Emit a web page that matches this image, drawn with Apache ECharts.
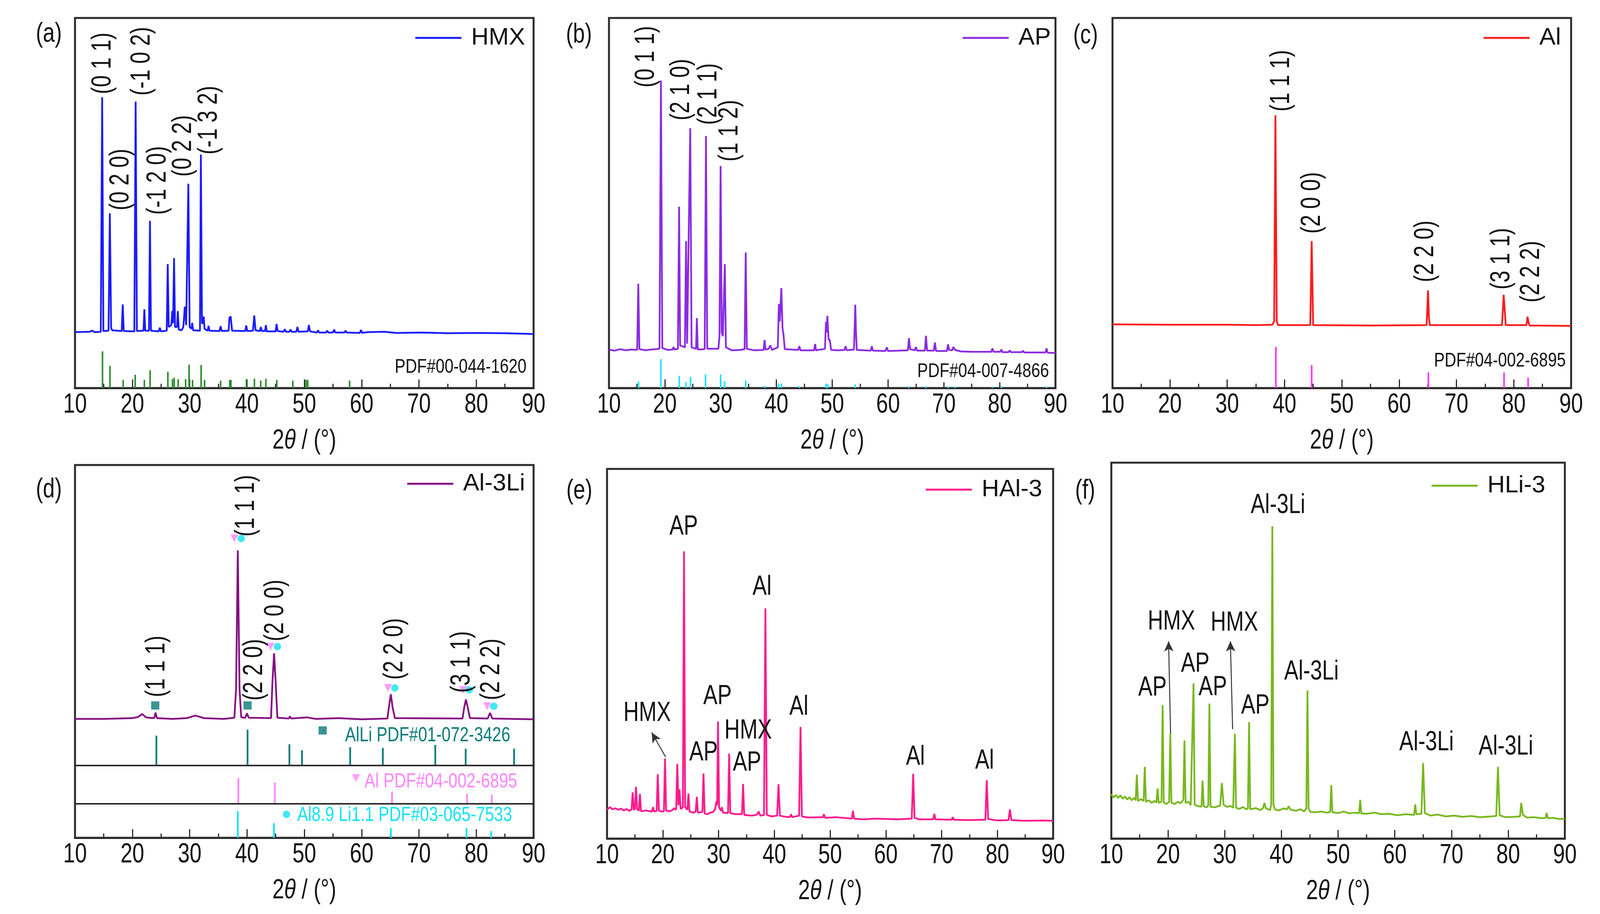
<!DOCTYPE html>
<html>
<head>
<meta charset="utf-8">
<script src="https://cdn.jsdelivr.net/npm/echarts@6/dist/echarts.min.js"></script>
<style>html,body{margin:0;padding:0;background:#fff}#c{width:4134px;height:2339px}</style>
</head>
<body>
<div id="c"></div>
<script>
// ---------------- DATA ----------------
const panelLetters = ['(a)', '(b)', '(c)', '(d)', '(e)', '(f)'];
const seriesNames = ['HMX', 'AP', 'Al', 'Al-3Li', 'HAl-3', 'HLi-3'];
const xTickValues = [10, 20, 30, 40, 50, 60, 70, 80, 90];
const xAxisTitle = '2{i|θ} / (°)';

// measured traces: [2theta, intensity (0-100 of panel height)]
const hmxTrace = [[10,15.1],[12.5,15.2],[13.0,15.5],[13.4,15.1],[14.5,15.2],[14.74,78.6],[14.95,15.4],[15.85,15.5],[16.08,47.2],[16.3,16.2],[16.5,15.6],[18.15,15.4],[18.33,22.6],[18.5,15.4],[20.35,15.3],[20.58,77.4],[20.8,15.4],[21.95,15.5],[22.1,21.3],[22.25,15.5],[22.9,15.5],[23.08,45.2],[23.25,15.5],[24.6,15.3],[24.8,16.3],[25.0,15.3],[26.0,15.5],[26.18,33.5],[26.35,16.5],[26.8,17],[26.97,20.8],[27.1,17.5],[27.28,35.1],[27.45,16.5],[27.8,16.5],[27.94,20.8],[28.1,15.8],[28.6,15.6],[28.9,16.5],[29.16,22],[29.4,17],[29.77,55.2],[30.0,16.5],[30.3,16],[30.44,17.6],[30.6,15.6],[31.8,15.5],[31.96,63.1],[32.15,17.5],[32.3,17.5],[32.45,19.3],[32.6,16],[33.15,15.5],[33.3,16.8],[33.45,15.5],[35.2,15.4],[35.4,16.7],[35.6,15.4],[36.8,15.5],[36.95,19.2],[37.05,18.6],[37.15,19.4],[37.4,15.5],[39.7,15.4],[39.87,16.9],[40.05,15.4],[41.05,15.5],[41.27,19.6],[41.5,15.6],[42.25,15.4],[42.42,16.5],[42.6,15.4],[43.15,15.4],[43.3,17],[43.45,15.3],[45.0,15.3],[45.16,17.3],[45.35,15.4],[46.4,15.2],[46.6,15.9],[46.8,15.2],[47.4,15.2],[47.6,15.8],[47.8,15.2],[48.6,15.2],[48.8,16.5],[49.0,15.2],[50.6,15.3],[50.8,17],[51.0,15.3],[52.2,15.0],[52.4,15.6],[52.6,15.0],[53.8,15.0],[54.0,15.5],[54.2,15.0],[55.0,15.0],[55.2,15.8],[55.4,15.0],[57.0,15.0],[57.2,15.5],[57.4,15.0],[59.7,14.9],[59.9,15.7],[60.1,14.9],[61,15.1],[64,15.2],[66,14.9],[70.5,15.0],[75,14.8],[80,14.9],[85,14.8],[90,14.6]];

const apTrace = [[10,10.4],[11,10.1],[12,10.5],[13,10.2],[14,10.4],[15.05,10.3],[15.25,28.2],[15.45,10.5],[16.5,10.2],[17.5,10.4],[19.05,10.6],[19.31,83.1],[19.55,10.8],[20.5,10.3],[21.4,10.4],[21.56,11.1],[21.7,10.4],[22.35,10.6],[22.56,49],[22.75,11.5],[23.6,11],[23.81,39.7],[24.0,12],[24.56,70.2],[24.8,11],[25.6,10.6],[25.75,18.9],[25.9,10.4],[27.15,10.5],[27.38,68.1],[27.6,10.6],[29.6,10.6],[29.8,14],[30.0,60],[30.2,15],[30.4,14],[30.75,33.5],[30.95,11],[32,10.2],[33.5,10.3],[34.3,10.5],[34.5,36.6],[34.7,10.6],[36,10.2],[37.7,10.3],[37.88,13],[38.05,10.4],[38.6,10.6],[38.9,11.5],[39.2,10.3],[40.25,11],[40.44,22.7],[40.6,18],[40.88,27],[41.1,16],[41.25,14.7],[41.5,10.5],[43.9,10.3],[44.1,11.3],[44.3,10.2],[46.75,10.2],[46.94,11.9],[47.1,10.2],[48.7,10.6],[48.88,17.9],[49.0,15],[49.13,19.5],[49.35,13],[49.56,13.1],[49.8,10.3],[51,10.2],[52.2,10.3],[52.4,11.3],[52.6,10.2],[53.9,10.4],[54.13,22.5],[54.25,15.5],[54.4,10.3],[56.9,10.1],[57.1,11.3],[57.3,10.1],[59.5,10.0],[59.8,11],[60.0,10.0],[62,10.1],[63.55,10.2],[63.75,13.5],[63.95,10.5],[64.8,10.2],[65.0,11.1],[65.2,10.1],[66.6,10.1],[66.8,14.1],[67.0,10.1],[68.2,10.1],[68.4,12.3],[68.6,10.0],[70.55,10.0],[70.75,11.8],[70.95,10.3],[71.5,10.2],[71.7,11.1],[72.0,10.3],[73,9.9],[75,9.8],[78.5,9.8],[78.7,10.7],[78.9,9.8],[80.1,9.8],[80.3,10.4],[80.5,9.7],[81.6,9.7],[81.8,10.2],[82,9.7],[84,9.7],[84.2,10.1],[84.4,9.6],[88.2,9.6],[88.4,10.7],[88.6,9.5],[90,9.5]];

const alTrace = [[10,17.2],[20,17.1],[30,17.1],[35,17.0],[37.9,17.1],[38.2,18],[38.42,73.7],[38.65,18],[38.9,17],[44.5,17.0],[44.75,39.7],[45.0,17],[55,16.9],[64.8,17],[65.04,26.4],[65.2,19],[65.35,17],[77.95,17],[78.24,25.2],[78.45,20.5],[78.6,17],[82.2,17],[82.4,19.3],[82.6,17.5],[82.75,16.9],[90,16.8]];

const al3LiTrace = [[10,31.9],[15,31.9],[20,32.1],[21.0,32.4],[21.7,33.2],[22.4,32.3],[23.5,32.1],[23.85,32.2],[24.05,33.6],[24.3,32.1],[27,31.9],[29.5,32.1],[31.0,32.8],[32.5,32.1],[36,31.9],[37.8,32.2],[38.1,40],[38.4,77.1],[38.7,40],[39.0,32.3],[39.7,32.2],[40.0,33.4],[40.3,32.2],[44.2,32.1],[44.45,42],[44.73,49.5],[45.0,42],[45.3,32.2],[47.3,32],[47.5,32.6],[47.7,32],[50.5,32.3],[52,31.9],[56,32.1],[60,31.8],[64.5,32],[64.8,35.5],[65.1,38.5],[65.4,35],[65.8,32.1],[77.6,32],[77.9,35],[78.2,37.1],[78.5,35],[78.9,32.1],[82.0,32],[82.4,33.5],[82.8,32],[90,31.8]];

const hal3Trace = [[10,7.8],[10.5,8.5],[11,7.9],[11.5,8.2],[12,7.8],[12.5,8.1],[13,7.6],[13.5,8],[14.0,7.5],[14.4,7.9],[14.6,12.5],[14.8,7.8],[15.0,8],[15.2,14],[15.4,8],[15.7,7.5],[15.9,12.1],[16.1,7.4],[17,7.6],[18.05,7.3],[18.25,8.5],[18.45,7.3],[18.9,7.5],[19.1,17.4],[19.3,7.5],[19.8,7.3],[20.2,7.4],[20.4,21.7],[20.6,7.5],[21.3,7.4],[21.8,7.8],[22.0,8.2],[22.4,7.8],[22.6,20.2],[22.8,9],[23.0,13.3],[23.2,8],[23.6,8.5],[23.8,77.7],[24.0,8.5],[24.4,7.8],[24.6,12.2],[24.8,7.3],[25.5,7],[25.9,7.3],[26.1,11.3],[26.3,7.0],[27.1,7.2],[27.3,17.6],[27.5,6.8],[28,6.6],[28.5,7],[29.0,7.2],[29.4,8],[29.6,10.1],[29.75,9],[29.9,31.7],[30.1,8.5],[30.4,7.5],[30.6,8.5],[30.8,7],[31.7,6.9],[31.9,23],[32.1,6.9],[33,6.6],[34.2,6.6],[34.4,14.8],[34.6,6.4],[36,6.2],[36.9,6.5],[37.2,7.3],[37.5,6.2],[38.15,6.4],[38.4,62.3],[38.65,6.4],[39.5,6],[40.5,6.2],[40.75,14.7],[41.0,6.2],[42,5.9],[42.8,5.8],[43.0,6.6],[43.2,5.8],[44.45,6.2],[44.7,30.2],[44.95,6],[46,5.7],[48.7,5.8],[48.9,6.6],[49.1,5.6],[51,5.8],[53.9,5.4],[54.1,7.5],[54.3,5.4],[56,5.2],[58,5.4],[60,5.3],[62,5.2],[64.65,5.4],[64.9,17.5],[65.15,5.6],[66,5.2],[68.5,5.2],[68.7,6.7],[68.9,5.2],[71.8,5.1],[72.0,5.8],[72.2,5.1],[75,5.0],[77.85,5.1],[78.1,15.8],[78.35,5.3],[80,4.9],[82.0,5],[82.25,7.9],[82.5,5],[85,4.8],[88,4.9],[90,4.8]];

const hli3Trace = [[10,11.8],[10.4,10.9],[10.8,11.6],[11.2,10.8],[11.6,11.5],[12,10.6],[12.4,11.2],[12.8,10.4],[13.2,11],[13.6,10.2],[14.0,10.8],[14.3,10.2],[14.5,17],[14.7,10],[15.2,10.5],[15.7,10],[15.9,19.1],[16.1,9.8],[16.6,10.2],[17.1,9.5],[17.6,10],[17.95,9.6],[18.15,13.3],[18.35,9.5],[18.85,9.8],[19.05,35.5],[19.25,9.6],[19.7,9.2],[20.2,9.8],[20.4,27.9],[20.6,9.5],[21.2,9.2],[21.7,9.8],[22.2,9.4],[22.7,10.3],[22.9,26.1],[23.1,9.5],[23.6,9.8],[24.0,8.9],[24.5,41.3],[24.7,9],[25.3,8.6],[25.9,8.5],[26.1,15.4],[26.3,8.6],[26.8,8.3],[27.1,8.8],[27.3,35.9],[27.5,8.5],[28.2,8.3],[28.8,8.6],[29.2,8.8],[29.5,14.8],[29.8,9],[30.4,8.4],[31.0,8.7],[31.5,8.2],[31.8,27.9],[32.0,8.2],[32.6,7.9],[33.2,8.4],[33.8,7.8],[34.1,8],[34.3,31],[34.5,7.8],[35.5,8.1],[36.3,7.6],[36.8,8.2],[37.0,9.5],[37.3,8],[38.0,7.6],[38.2,9],[38.4,83.1],[38.6,9],[38.9,7.7],[39.6,7.5],[40.3,8],[41.0,7.8],[41.3,8.6],[41.6,7.7],[42.5,7.4],[43.4,7.8],[44.0,7.2],[44.4,8],[44.6,39.4],[44.8,8],[45.1,7.1],[46,7],[47,7.2],[48,6.9],[48.6,7.1],[48.8,14.2],[49.0,7],[50,6.8],[51,7.2],[52,6.7],[53,6.9],[53.7,6.7],[53.9,10.3],[54.1,6.7],[55,6.6],[56.5,6.9],[57.5,6.5],[59,6.6],[60.5,6.2],[62,6.5],[63.4,6.3],[63.6,9.1],[63.8,6.5],[64.7,6.6],[65.0,20.1],[65.3,6.8],[66.3,6.1],[67.5,6.4],[69,5.9],[70.5,6.1],[72,5.8],[73.5,6.0],[75,5.7],[77,5.9],[77.9,6],[78.2,19.1],[78.5,6.2],[79.5,5.7],[81,5.8],[82.1,5.9],[82.3,9.5],[82.6,6.3],[83.3,5.6],[84.5,5.7],[86,5.4],[86.6,5.5],[86.8,6.8],[87.0,5.4],[88,5.5],[89,5.2],[90,5.3]];

// reference patterns: [2theta, stick top]
const hmxRef = [[14.8,9.9],[16.1,6],[18.4,2.2],[20.5,3.6],[22.1,2.2],[23.1,4.8],[26.2,4.4],[27.0,2.4],[27.3,2.8],[28.0,2.4],[29.3,2.4],[29.9,6.3],[30.5,2.2],[32.0,6.2],[32.6,2.2],[35.4,2],[37.0,2.2],[37.2,2.2],[39.9,2.4],[41.3,2.5],[42.4,2],[43.3,2.5],[45.2,2.2],[48.0,2],[50.3,2.2],[50.6,2.2],[57.9,2]];
const apRef = [[15.3,1.8],[19.3,7.8],[22.6,3.3],[23.8,1.6],[24.6,3],[27.3,3.7],[30.0,3.7],[30.7,1.8],[34.5,2],[37.9,0.6],[40.4,1.2],[40.9,1.2],[44.1,0.5],[48.9,1.2],[49.2,1.0],[54.1,1],[63.7,0.5],[66.8,0.5],[70.8,0.4],[72,0.4],[78.7,0.4],[80.3,0.4],[88.4,0.4]];
const alRef = [[38.5,11.1],[44.75,6.2],[65.1,4.2],[78.3,4.2],[82.5,2.8]];
const alLiRef = [[24.2,27.4],[40.1,29.0],[47.4,25.1],[49.6,23.5],[58.0,24.3],[63.7,24.1],[72.85,24.9],[78.15,23.9],[86.6,23.9]];
const alRefD = [[38.5,16],[44.85,14.8],[65.3,12.4],[78.4,11.8],[82.7,11.5]];
const al89Ref = [[38.4,7.1],[44.7,3.9],[65.1,2.6],[78.3,2.6],[82.6,1.8]];
const dBandLines = [19.4, 9.15];

// hkl labels (vertical): [text, 2theta, bottom]
const hmxHkl = [['(0 1 1)',14.9,79.4],['(0 2 0)',18.0,48],['(-1 0 2)',21.7,79],['(-1 2 0)',24.5,46.8],['(0 2 2)',28.9,57.1],['(-1 3 2)',33.4,63.1]];
const apHkl = [['(0 1 1)',16.7,81.2],['(2 1 0)',23.0,72.3],['(2 1 1)',27.9,71.1],['(1 1 2)',31.7,61.2]];
const alHkl = [['(1 1 1)',39.46,74.7],['(2 0 0)',44.9,41.7],['(2 2 0)',64.6,28.6],['(3 1 1)',77.9,26.6],['(2 2 2)',83.1,23.1]];
const al3LiHkl = [['(1 1 1)',24.3,37.7],['(1 1 1)',39.9,80.8],['(2 2 0)',41.3,36.8],['(2 0 0)',45.0,52.7],['(2 2 0)',65.8,42.4],['(3 1 1)',77.5,38.9],['(2 2 2)',82.7,36.9]];

// phase labels (horizontal): [text, 2theta, y]
const hal3Phase = [['AP',23.75,84.3],['HMX',17.2,33.9],['AP',29.8,38.4],['AP',27.3,23.2],['HMX',35.3,29.1],['AP',35.1,20.4],['Al',37.8,68],['Al',44.4,35.5],['Al',65.3,22],['Al',77.7,21]];
const hli3Phase = [['Al-3Li',39.4,88.6],['HMX',20.6,57.6],['HMX',31.7,57.3],['AP',17.25,40],['AP',24.8,46.4],['AP',27.9,40.2],['AP',35.4,35.3],['Al-3Li',45.3,44.3],['Al-3Li',65.6,25.5],['Al-3Li',79.6,24.4]];
// arrows: [[x1,y1],[x2,y2]] from peak to label
const hal3Arrows = [[[20.5,22.1],[18.0,28.7]]];
const hli3Arrows = [[[20.45,27.9],[20.1,52.5]],[[31.4,29.1],[31.0,52.5]]];

// card labels
const cardLabels = [['PDF#00-044-1620',89.1,5.6],['PDF#04-007-4866',89.2,4.4],['PDF#04-002-6895',89.4,7.3]];
const al3LiCards = [['AlLi PDF#01-072-3426',57.1,27.4],['Al PDF#04-002-6895',60.5,15.0],['Al8.9 Li1.1 PDF#03-065-7533',48.75,6.0]];

// phase markers in (d)
const alLiMarks = [[24.0,35.5],[40.1,35.5],[53.2,28.8]];
const alMarks = [[37.8,80.3],[44.1,51.3],[64.6,40.2],[77.7,39.7],[81.9,35.3],[59.0,16.0]];
const al89Marks = [[39.0,80.3],[45.3,51.3],[65.8,40.2],[78.8,39.7],[83.05,35.3],[46.9,6.3]];

// ---------------- STYLE / LAYOUT ----------------
const FONT = "'Liberation Sans',Arial,sans-serif";
const NARROW = 0.78;           // horizontal squeeze to mimic the condensed face of the original
const FS = 70;
const TXT = '#111';
const AX = '#2b2b2b';
const grids = [
  {left:192, top:46, width:1174, height:947},
  {left:1559, top:46, width:1143, height:947},
  {left:2848, top:46, width:1174, height:947},
  {left:192, top:1190, width:1174, height:954},
  {left:1554, top:1200, width:1142, height:946},
  {left:2845, top:1184, width:1161, height:962}
];
const letterPos = [[125,88],[1482,90],[2779,92],[125,1254],[1483,1257],[2778,1257]];
const legendPos = [[2790,66],[1444,66],[138,66],[2790,1207],[1466,1222],[178,1212]];
const colors = {HMX:'#1a1aff', AP:'#8a2be2', Al:'#ff1a1a', Al3Li:'#850f82', HAl3:'#ff1a8c', HLi3:'#78b81e',
  hmxRef:'#2a8c2a', apRef:'#1fe3ff', alRef:'#ff2dff', teal:'#0b7b78', pink:'#ff85ff', cyan:'#12e2f5'};

// ---------------- BUILD ----------------
const traces = [hmxTrace, apTrace, alTrace, al3LiTrace, hal3Trace, hli3Trace];
const traceColors = [colors.HMX, colors.AP, colors.Al, colors.Al3Li, colors.HAl3, colors.HLi3];

function sticks(idx, data, base, color, width) {
  return {
    type:'custom', xAxisIndex:idx, yAxisIndex:idx, silent:true, z:2, data, encode:{x:0, y:1},
    renderItem:(params, api) => {
      const p0 = api.coord([api.value(0), base]);
      const p1 = api.coord([api.value(0), api.value(1)]);
      return {type:'line', shape:{x1:p0[0], y1:p0[1], x2:p1[0], y2:p1[1]}, style:{stroke:color, lineWidth:width}};
    }
  };
}
// text placed at data coordinates through the axes; items: [text, x, y]
function texts(idx, items, o) {
  o = Object.assign({size:FS, sx:NARROW, color:TXT, align:'center', vAlign:'middle', rotate:false, dx:0, dy:0, bg:null, rich:null}, o || {});
  return {
    type:'custom', xAxisIndex:idx, yAxisIndex:idx, silent:true, z:8, clip:false,
    data:items.map(it => [it[1], it[2]]), encode:{x:0, y:1},
    renderItem:(params, api) => {
      const it = items[params.dataIndex];
      const p = api.coord([api.value(0), api.value(1)]);
      const style = {text:it[0], fontSize:o.size, fontFamily:FONT, fill:o.color, align:o.align, verticalAlign:o.vAlign};
      if (o.bg) { style.backgroundColor = o.bg; style.padding = [2, 6]; }
      if (o.rich) style.rich = o.rich;
      return {type:'text', x:p[0] + o.dx, y:p[1] + o.dy, rotation:o.rotate ? Math.PI / 2 : 0,
        scaleX:o.sx, scaleY:1, style};
    }
  };
}
function arrows(idx, list) {
  return {
    type:'scatter', xAxisIndex:idx, yAxisIndex:idx, silent:true, z:7, symbolSize:0, data:[],
    markLine:{silent:true, symbol:['none','arrow'], symbolSize:[18,26], animation:false,
      lineStyle:{color:'#333', width:2.5, type:'solid'}, label:{show:false},
      data:list.map(a => [{coord:a[0]}, {coord:a[1]}])}
  };
}
function marks(idx, data, symbol, color, size, rot) {
  return {type:'scatter', xAxisIndex:idx, yAxisIndex:idx, silent:true, z:5, symbol, symbolSize:size,
    symbolRotate:rot || 0, itemStyle:{color}, data};
}

const series = [];
traces.forEach((t, i) => {
  const s = {type:'line', name:seriesNames[i], xAxisIndex:i, yAxisIndex:i, data:t, symbol:'none', showSymbol:false,
    color:traceColors[i], lineStyle:{width:4.5, color:traceColors[i]}, z:3, silent:true};
  if (i === 3) {
    s.markLine = {silent:true, symbol:'none', animation:false, label:{show:false},
      lineStyle:{color:AX, width:4, type:'solid'}, data:dBandLines.map(v => ({yAxis:v}))};
  }
  series.push(s);
  // tick labels and axis title, drawn through this panel's x axis
  series.push(texts(i, xTickValues.map(v => [String(v), v, 0]), {dy:44}));
  series.push(texts(i, [[xAxisTitle, 50, 0]], {dy:136, rich:{i:{fontSize:FS, fontFamily:FONT, fill:TXT, fontStyle:'italic'}}}));
});
series.push(sticks(0, hmxRef, 0, colors.hmxRef, 4));
series.push(sticks(1, apRef, 0, colors.apRef, 4));
series.push(sticks(2, alRef, 0, colors.alRef, 4));
series.push(sticks(3, alLiRef, dBandLines[0], colors.teal, 4.5));
series.push(sticks(3, alRefD, dBandLines[1], colors.pink, 4.5));
series.push(sticks(3, al89Ref, 0, colors.cyan, 4.5));
series.push(texts(0, hmxHkl, {rotate:true, align:'left'}));
series.push(texts(1, apHkl, {rotate:true, align:'left'}));
series.push(texts(2, alHkl, {rotate:true, align:'left'}));
series.push(texts(3, al3LiHkl, {rotate:true, align:'left'}));
series.push(texts(4, hal3Phase));
series.push(texts(5, hli3Phase));
series.push(arrows(4, hal3Arrows));
series.push(arrows(5, hli3Arrows));
cardLabels.forEach((c, i) => series.push(texts(i, [c], {align:'right', size:50, sx:0.82, bg:'#fff'})));
const cardColors = [colors.teal, colors.pink, colors.cyan];
al3LiCards.forEach((c, i) => series.push(texts(3, [c], {align:'left', size:52, sx:0.8, color:cardColors[i]})));
series.push(marks(3, alLiMarks, 'rect', colors.teal, 21));
series.push(marks(3, alMarks, 'triangle', colors.pink, 20, 180));
series.push(marks(3, al89Marks, 'circle', colors.cyan, 19));

const xAxes = grids.map((g, i) => ({
  gridIndex:i, type:'value', min:10, max:90, interval:10,
  axisLine:{show:true, lineStyle:{color:AX, width:5}},
  axisTick:{show:true, inside:true, length:22, lineStyle:{color:AX, width:3}},
  minorTick:{show:true, splitNumber:2, length:11, lineStyle:{color:AX, width:3}},
  splitLine:{show:false},
  axisLabel:{show:false}
}));
const yAxes = grids.map((g, i) => ({gridIndex:i, type:'value', min:0, max:100, show:false}));

const legends = grids.map((g, i) => ({
  data:[seriesNames[i]], right:legendPos[i][0], top:legendPos[i][1], padding:0,
  icon:'rect', itemWidth:118, itemHeight:5, selectedMode:false,
  textStyle:{fontSize:62, color:TXT, fontFamily:FONT, padding:[0,0,0,20]}
}));

const graphic = letterPos.map((p, i) => ({
  type:'text', x:p[0], y:p[1], silent:true, scaleX:NARROW,
  style:{text:panelLetters[i], fontSize:FS, fontFamily:FONT, fill:TXT, align:'center', verticalAlign:'middle'}
}));

const option = {
  animation:false,
  backgroundColor:'#fff',
  grid:grids.map(g => Object.assign({show:true, borderColor:AX, borderWidth:5, backgroundColor:'#fff'}, g)),
  xAxis:xAxes, yAxis:yAxes, legend:legends, graphic, series
};
const chart = echarts.init(document.getElementById('c'), null, {renderer:'canvas'});
chart.setOption(option);
</script>
</body>
</html>
